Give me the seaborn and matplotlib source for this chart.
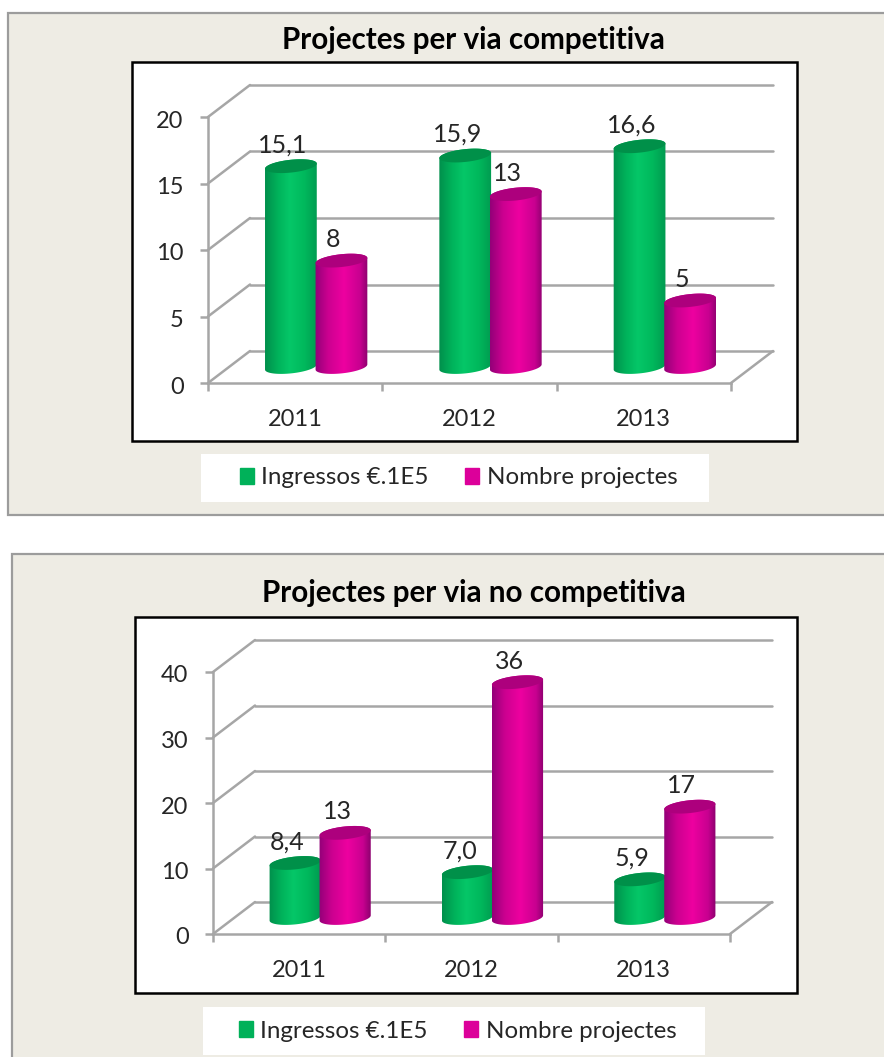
# coding = utf-8
import numpy as np
import pandas as pd
import seaborn as sns
import matplotlib.pyplot as plt
import matplotlib.patches as mpatches
from matplotlib.colors import LinearSegmentedColormap
from matplotlib.transforms import ScaledTranslation

FIG_W, FIG_H = 884, 1057

years = ['2011', '2012', '2013']
series = ['Ingressos €.1E5', 'Nombre projectes']

comp_title = 'Projectes per via competitiva'
comp_ingressos = [15.1, 15.9, 16.6]
comp_projectes = [8, 13, 5]
comp_yticks = [0, 5, 10, 15, 20]

nocomp_title = 'Projectes per via no competitiva'
nocomp_ingressos = [8.4, 7.0, 5.9]
nocomp_projectes = [13, 36, 17]
nocomp_yticks = [0, 10, 20, 30, 40]

GREY = '#a6a6a6'
BEIGE = '#eeece4'
GREEN = '#00b159'
MAGENTA = '#dc009a'
TXT = '#262626'

cm_green = LinearSegmentedColormap.from_list(
    'g', [(0, '#008f4c'), (0.25, '#00b35b'), (0.47, '#05c768'), (0.75, '#00b85c'), (1, '#009a50')])
cm_mag = LinearSegmentedColormap.from_list(
    'm', [(0, '#920078'), (0.25, '#cc0090'), (0.55, '#ee00a0'), (0.85, '#c80090'), (1, '#8c006e')])
cap_colors = ['#009049', '#ad007d']

sns.set_theme(style='white')
plt.rcParams['font.family'] = ['Lato', 'DejaVu Sans']

fig = plt.figure(figsize=(FIG_W / 100, FIG_H / 100), dpi=100, facecolor='white')

# fondo en pixeles
bg = fig.add_axes([0, 0, 1, 1])
bg.set_xlim(0, FIG_W)
bg.set_ylim(FIG_H, 0)
bg.axis('off')


def px_axes(x0, x1, ytop, ybot):
    return fig.add_axes([x0 / FIG_W, 1 - ybot / FIG_H, (x1 - x0) / FIG_W, (ybot - ytop) / FIG_H])


def cylinder(ax, patch, cmap, cap, sx, sy, zorder):
    x, w, h = patch.get_x(), patch.get_width(), patch.get_height()
    # medio pixel de mas para que las dos barras se toquen
    a = w * sx / 2 + 0.6
    b = 6.4
    t = np.linspace(0, 2 * np.pi, 120)
    ex = a * np.cos(t) / sx
    ey = (0.1 * a * np.cos(t) + b * np.sin(t)) / sy
    cx = x + w / 2
    top = t <= np.pi
    bottom = t >= np.pi
    outline = np.r_[np.c_[cx + ex[top], h + ey[top]], np.c_[cx + ex[bottom], ey[bottom]]]
    grad = np.linspace(0, 1, 256).reshape(1, -1)
    im = ax.imshow(grad, cmap=cmap, aspect='auto', interpolation='bilinear', zorder=zorder,
                   extent=(x - 1 / sx, x + w + 1 / sx, -20 / sy, h + 20 / sy))
    im.set_clip_path(mpatches.Polygon(outline, closed=True, transform=ax.transData))
    # el cilindro baja por debajo del cero de estos ejes
    im.set_clip_box(fig.bbox)
    ax.add_patch(mpatches.Polygon(np.c_[cx + ex, h + ey], closed=True, facecolor=cap, edgecolor='none',
                                  zorder=zorder + 0.1, clip_on=False))
    patch.set_facecolor('none')
    patch.set_linewidth(0)


def draw_panel(title, ingressos, projectes, yticks, panel, frame, plane, title_xy, legend_box):
    # panel beige y marco negro
    bg.add_patch(mpatches.Rectangle((panel[0], panel[1]), panel[2] - panel[0], panel[3] - panel[1],
                                    facecolor=BEIGE, edgecolor='#9c9c9c', linewidth=1.6))
    bg.add_patch(mpatches.Rectangle((frame[0], frame[1]), frame[2] - frame[0], frame[3] - frame[1],
                                    facecolor='white', edgecolor='black', linewidth=1.8))
    bg.text(title_xy[0], title_xy[1], title, fontsize=21.3, fontweight='bold', color='black',
            ha='center', va='center')
    lx0, ly0, lx1, ly1 = legend_box
    bg.add_patch(mpatches.Rectangle((lx0, ly0), lx1 - lx0, ly1 - ly0, facecolor='white', edgecolor='none'))

    x0, x1, ytop, ybot = plane
    ymax = yticks[-1]

    # pared del fondo con la rejilla
    back = px_axes(x0 + 42, x1 + 42, ytop - 32, ybot - 32)
    back.set_xlim(-0.5, 2.5)
    back.set_ylim(0, ymax)
    back.patch.set_alpha(0)
    back.set_yticks(yticks)
    back.set_xticks([])
    back.tick_params(left=False, labelleft=False)
    back.grid(True, axis='y', color=GREY, linewidth=1.8)
    for ln in back.get_ygridlines():
        ln.set_clip_on(False)
    sns.despine(ax=back, left=True, bottom=True)

    # plano frontal con los ejes
    front = px_axes(x0, x1, ytop, ybot)
    front.set_xlim(-0.5, 2.5)
    front.set_ylim(0, ymax)
    front.patch.set_alpha(0)
    sns.despine(ax=front)
    for s in ['left', 'bottom']:
        front.spines[s].set_color(GREY)
        front.spines[s].set_linewidth(1.8)
    front.set_yticks(yticks)
    front.set_xticks([-0.5, 0.5, 1.5, 2.5])
    front.set_xticks([0, 1, 2], minor=True)
    front.set_xticklabels(['', '', '', ''])
    front.set_xticklabels(years, minor=True)
    front.tick_params(axis='y', left=True, length=6, width=1.8, color=GREY, labelsize=17, labelcolor=TXT, pad=11.6)
    front.tick_params(axis='x', which='major', bottom=True, length=6, width=1.8, color=GREY)
    front.tick_params(axis='x', which='minor', bottom=False, labelsize=17, labelcolor=TXT, pad=15)
    for lab in front.get_yticklabels():
        lab.set_transform(lab.get_transform() + ScaledTranslation(0, -2 / 100, fig.dpi_scale_trans))

    # diagonales de suelo y paredes
    for y in yticks:
        back.add_artist(mpatches.ConnectionPatch((-0.5, y), (-0.5, y), 'data', 'data', axesA=front, axesB=back,
                                                 color=GREY, linewidth=1.8))
    back.add_artist(mpatches.ConnectionPatch((2.5, 0), (2.5, 0), 'data', 'data', axesA=front, axesB=back,
                                             color=GREY, linewidth=1.8))

    # barras en el plano medio
    ax = px_axes(x0 + 21, x1 + 21, ytop - 16, ybot - 16)
    df = pd.DataFrame({'any': years * 2,
                       'valor': list(ingressos) + list(projectes),
                       'serie': [series[0]] * 3 + [series[1]] * 3})
    sns.barplot(data=df, x='any', y='valor', hue='serie', hue_order=series, order=years,
                palette=[GREEN, MAGENTA], width=0.58, gap=0, legend=False, ax=ax)
    ax.set_xlim(-0.5, 2.5)
    ax.set_ylim(0, ymax)
    sx = (x1 - x0) / 3
    sy = (ybot - ytop) / ymax
    texts = [[f'{v:.1f}'.replace('.', ',') for v in ingressos], [str(v) for v in projectes]]
    cmaps = [cm_green, cm_mag]
    for i, cont in enumerate(ax.containers):
        for j, patch in enumerate(cont.patches):
            cylinder(ax, patch, cmaps[i], cap_colors[i], sx, sy, 3 + i)
            ax.annotate(texts[i][j], (patch.get_x() + patch.get_width() / 2, patch.get_height()),
                        xytext=(-8 * 0.72, 21 * 0.72), textcoords='offset points', ha='center', va='center',
                        fontsize=18, color=TXT, zorder=7, annotation_clip=False)
    ax.set_xlim(-0.5, 2.5)
    ax.set_ylim(0, ymax)
    ax.axis('off')

    handles = [mpatches.Patch(color=GREEN, label=series[0]), mpatches.Patch(color=MAGENTA, label=series[1])]
    ax.legend(handles=handles, ncol=2, frameon=False, fontsize=17.4, loc='center',
              bbox_to_anchor=((lx0 + lx1) / 2 + 3.5, (ly0 + ly1) / 2), bbox_transform=bg.transData,
              handlelength=0.6, handleheight=0.6, handletextpad=0.3, columnspacing=1.48, labelcolor=TXT)


draw_panel(comp_title, comp_ingressos, comp_projectes, comp_yticks,
           panel=(8, 13, 892, 515), frame=(132, 62, 797, 441), plane=(208, 731, 117, 383),
           title_xy=(473.5, 40), legend_box=(201, 454, 709, 502))

draw_panel(nocomp_title, nocomp_ingressos, nocomp_projectes, nocomp_yticks,
           panel=(12, 554, 892, 1065), frame=(135, 617, 797, 993), plane=(213, 730, 672, 934),
           title_xy=(474, 593), legend_box=(203, 1007, 705, 1055))

fig.savefig('out.png', dpi=100)
